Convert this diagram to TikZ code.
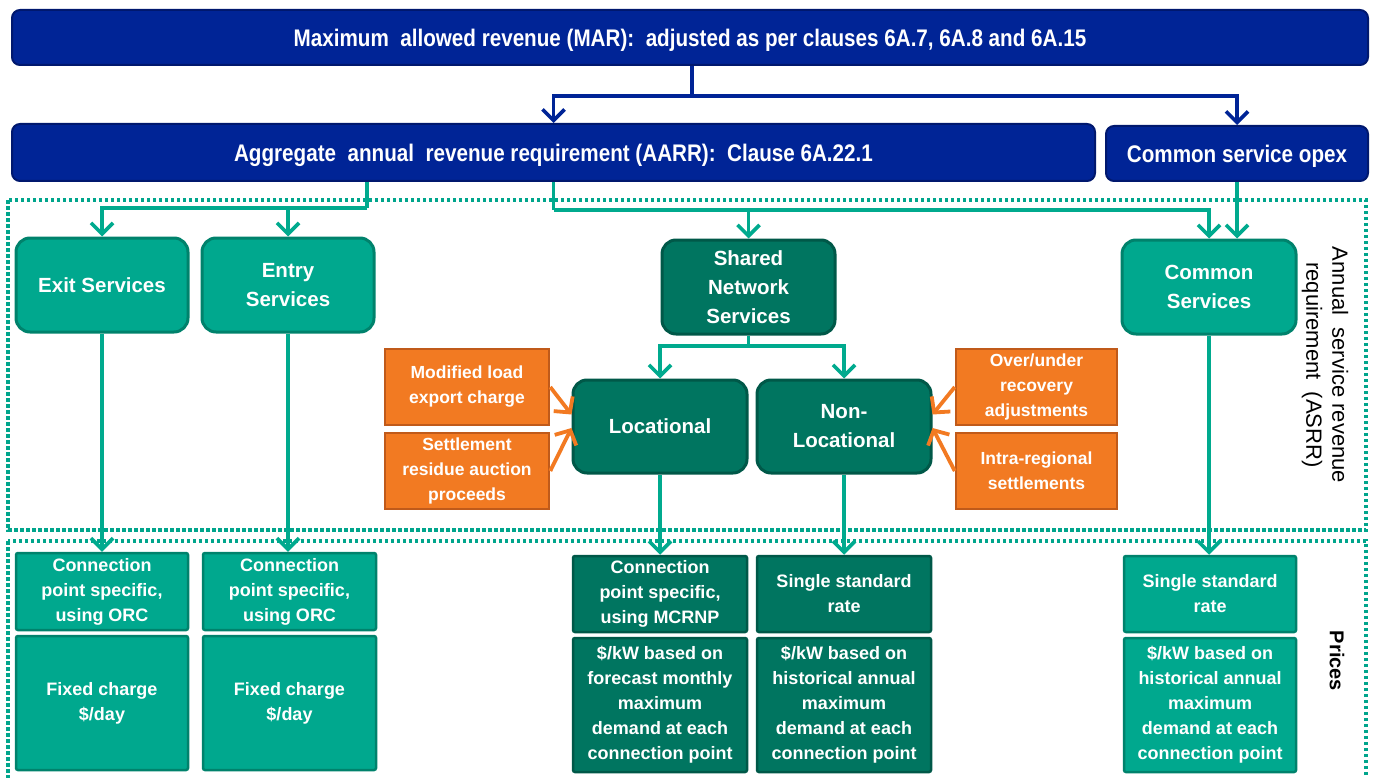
\documentclass[tikz,border=0pt]{standalone}
\usepackage{fontspec}
\setmainfont{Liberation Sans}
\newfontfamily\barfont{Liberation Sans}[FakeStretch=0.86]
\usetikzlibrary{arrows.meta}
\definecolor{navyfill}{RGB}{0,36,150}
\definecolor{navyedge}{RGB}{0,24,110}
\definecolor{tealL}{RGB}{0,168,142}
\definecolor{tealLedge}{RGB}{0,130,108}
\definecolor{tealD}{RGB}{0,117,96}
\definecolor{tealDedge}{RGB}{0,88,72}
\definecolor{orfill}{RGB}{242,122,34}
\definecolor{oredge}{RGB}{192,90,26}
\definecolor{dotc}{RGB}{0,165,140}
\definecolor{arrteal}{RGB}{0,170,142}
\definecolor{arrnavy}{RGB}{0,36,150}
\definecolor{arror}{RGB}{242,122,34}
\tikzset{
 bar/.style={draw=navyedge, fill=navyfill, line width=2pt, rounded corners=8pt, text=white,
   font=\barfont\bfseries\fontsize{24}{28}\selectfont, inner sep=0pt, text height=19pt, text depth=0pt},
 svc/.style={draw=tealLedge, fill=tealL, line width=3pt, rounded corners=14pt, text=white, align=center,
   font=\bfseries\fontsize{20.5}{29}\selectfont, inner sep=0pt, minimum width=172pt, minimum height=94pt},
 svcd/.style={svc, draw=tealDedge, fill=tealD},
 adj/.style={draw=oredge, fill=orfill, line width=2.5pt, text=white, align=center,
   font=\bfseries\fontsize{17.5}{25}\selectfont, inner sep=0pt, minimum width=164pt, minimum height=76pt},
 price/.style={draw=tealLedge, fill=tealL, line width=2.5pt, rounded corners=2pt, text=white, align=center,
   font=\bfseries\fontsize{18}{25}\selectfont, inner sep=0pt, minimum width=172pt},
 priced/.style={price, draw=tealDedge, fill=tealD},
 tline/.style={draw=arrteal, line width=3.6pt},
 tarr/.style={tline, -{Straight Barb[length=11pt,width=22pt]}},
 nline/.style={draw=arrnavy, line width=3.6pt},
 narr/.style={nline, -{Straight Barb[length=11pt,width=22pt]}},
 oarr/.style={draw=arror, line width=3.8pt, -{Straight Barb[length=11pt,width=24pt]}},
 dotbox/.style={draw=dotc, line width=3.5pt, dash pattern=on 3.5pt off 2.5pt},
 sidelabel/.style={rotate=-90, align=center, inner sep=0pt}
}
\begin{document}
\begin{tikzpicture}[x=1pt,y=-1pt]
\useasboundingbox (0,0) rectangle (1375,778);
% dotted group frames
\draw[dotbox] (8,200) rectangle (1366,530);
\draw[dotbox] (8,541) rectangle (1366,795);

% top bars
\node[bar, minimum width=1356pt, minimum height=55pt] (mar) at (690,37.5)
  {Maximum\ \ allowed revenue (MAR):\ \ adjusted as per clauses 6A.7, 6A.8 and 6A.15};
\node[bar, minimum width=1083pt, minimum height=57pt] (aarr) at (553.5,152.5)
  {Aggregate\ \ annual\ \ revenue requirement (AARR):\ \ Clause 6A.22.1};
\node[bar, minimum width=262pt, minimum height=55pt] (opex) at (1237,153.5)
  {Common service opex};

% services
\node[svc] (exit) at (102,285) {Exit Services};
\node[svc] (entry) at (288,285) {Entry\\Services};
\node[svcd, minimum width=173pt] (shared) at (748.5,287) {Shared\\Network\\Services};
\node[svc, minimum width=174pt] (common) at (1209,287) {Common\\Services};
\node[svcd, minimum width=174pt, minimum height=93pt] (loc) at (660,426.5) {Locational};
\node[svcd, minimum width=174pt, minimum height=93pt] (nonloc) at (844,426.5) {Non-\\Locational};

% adjustments
\node[adj] (mod) at (467,387) {Modified load\\export charge};
\node[adj] (settle) at (467,471) {Settlement\\residue auction\\proceeds};
\node[adj, minimum width=161pt] (over) at (1036.5,387) {Over/under\\recovery\\adjustments};
\node[adj, minimum width=161pt] (intra) at (1036.5,471) {Intra-regional\\settlements};

% prices
\node[price, minimum height=77pt] (exitp) at (102,591.5) {Connection\\point specific,\\using ORC};
\node[price, minimum width=173pt, minimum height=77pt] (entryp) at (289.5,591.5) {Connection\\point specific,\\using ORC};
\node[price, minimum height=134pt] (exitf) at (102,703) {Fixed charge\\\$/day};
\node[price, minimum width=173pt, minimum height=134pt] (entryf) at (289.5,703) {Fixed charge\\\$/day};
\node[priced, minimum width=174pt, minimum height=76pt] (locp) at (660,594) {Connection\\point specific,\\using MCRNP};
\node[priced, minimum width=174pt, minimum height=76pt] (nonlocp) at (844,594) {Single standard\\rate};
\node[price, minimum height=76pt] (commonp) at (1210,594) {Single standard\\rate};
\node[priced, minimum width=174pt, minimum height=134pt] (locd) at (660,705) {\$/kW based on\\forecast monthly\\maximum\\demand at each\\connection point};
\node[priced, minimum width=174pt, minimum height=134pt] (nonlocd) at (844,705) {\$/kW based on\\historical annual\\maximum\\demand at each\\connection point};
\node[price, minimum height=134pt] (commond) at (1210,705) {\$/kW based on\\historical annual\\maximum\\demand at each\\connection point};

% side labels
\node[sidelabel, font=\fontsize{22}{26}\selectfont] (asrr) at (1325,365) {Annual\ \ service revenue\\requirement\ \ (ASRR)};
\node[sidelabel, font=\bfseries\fontsize{20}{24}\selectfont] (prices) at (1337,661) {Prices};

% navy connectors
\draw[nline] (mar.south -| 692,0) -- (692,96) coordinate (mj);
\draw[narr] (mj) -| (aarr.north);
\draw[narr] (mj) -| (opex.north);

% teal connectors from AARR
\draw[tline] (aarr.south -| 367,0) -- (367,208) coordinate (aj1);
\draw[tarr] (aj1) -| (exit.north);
\draw[tarr] (aj1) -| (entry.north);
\draw[tline] (aarr.south) -- (553.5,210) coordinate (aj2);
\draw[tarr] (aj2) -| (shared.north);
\draw[tarr] (aj2) -| (common.north);
\draw[tarr] (opex.south) -- (opex.south |- common.north);

% shared split
\draw[tline] (shared.south) -- (748.5,346) coordinate (sj);
\draw[tarr] (sj) -| (loc.north);
\draw[tarr] (sj) -| (nonloc.north);

% down to prices
\draw[tarr] (exit.south) -- (exitp.north);
\draw[tarr] (entry.south) -- (entry.south |- entryp.north);
\draw[tarr] (loc.south) -- (locp.north);
\draw[tarr] (nonloc.south) -- (nonlocp.north);
\draw[tarr] (common.south) -- (common.south |- commonp.north);

% adjustments arrows
\draw[oarr] (mod.east) -- ([yshift=12pt]loc.west);
\draw[oarr] (settle.east) -- ([yshift=-1.5pt]loc.west);
\draw[oarr] (over.west) -- ([yshift=12pt]nonloc.east);
\draw[oarr] (intra.west) -- ([yshift=-1.5pt]nonloc.east);
\end{tikzpicture}
\end{document}
